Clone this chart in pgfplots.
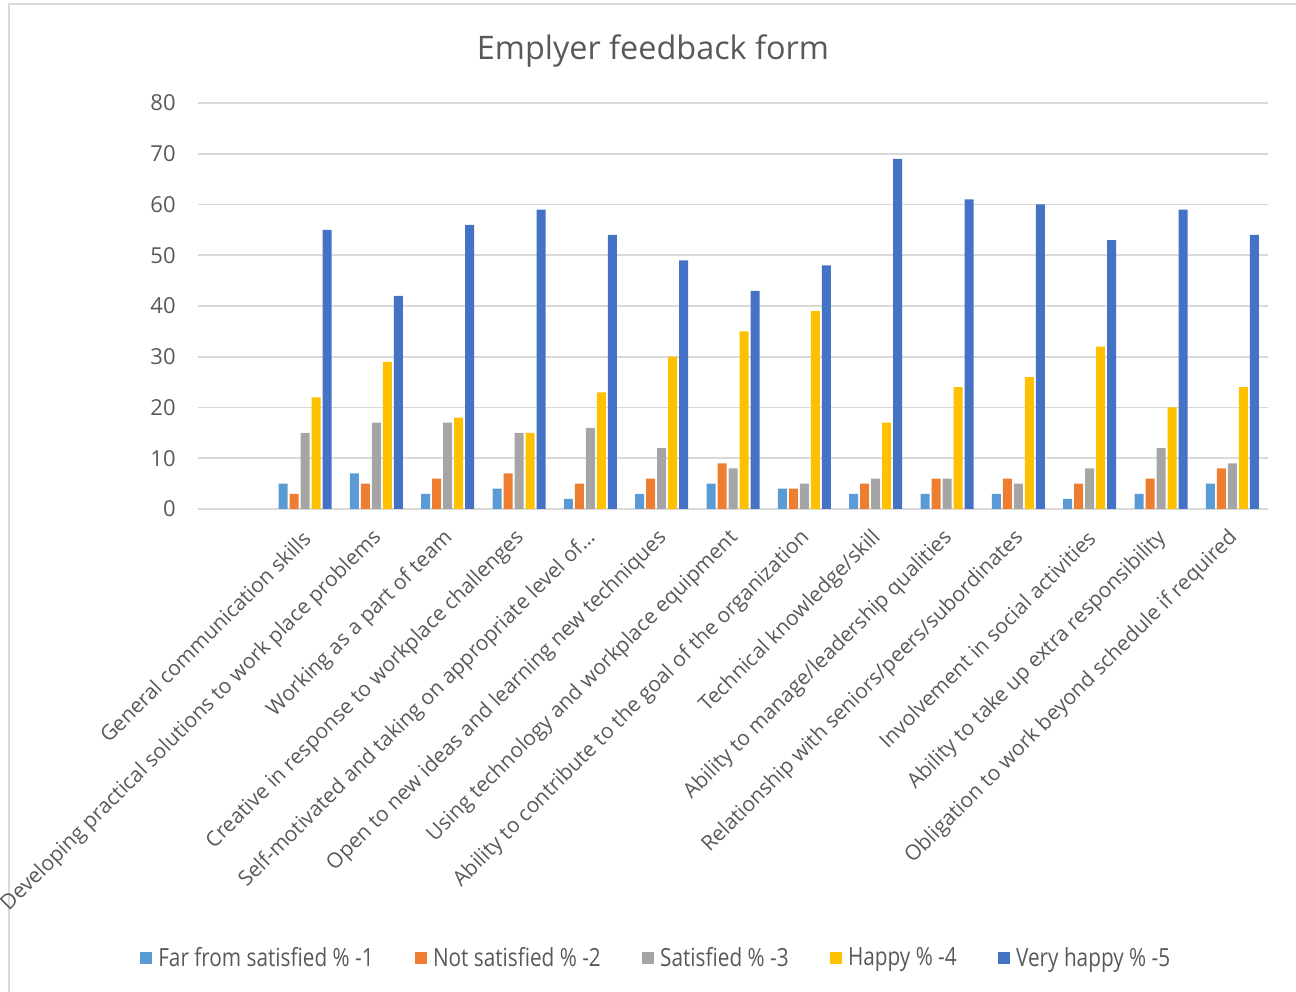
\documentclass[border=0pt]{standalone}
\usepackage{fontspec}
\setmainfont{Open Sans}
\newfontfamily\legfont[FakeStretch=0.83]{Open Sans}
\usepackage{pgfplots}
\pgfplotsset{compat=1.18}
\definecolor{c1}{HTML}{5B9BD5}
\definecolor{c2}{HTML}{ED7D31}
\definecolor{c3}{HTML}{A5A5A5}
\definecolor{c4}{HTML}{FFC000}
\definecolor{c5}{HTML}{4472C4}
\definecolor{txt}{HTML}{595959}
\definecolor{gridc}{HTML}{D9D9D9}
\begin{document}
\begin{tikzpicture}
\useasboundingbox (0,0) rectangle (648bp,496bp);
\draw[gridc, line width=1bp] (4.25bp,-2bp) -- (4.25bp,493.75bp) -- (650bp,493.75bp);
\begin{axis}[
  at={(99bp,241.5bp)}, anchor=south west,
  scale only axis, width=535bp, height=203bp,
  xmin=-0.5, xmax=14.5, ymin=0, ymax=80,
  ybar=1bp, bar width=4.5bp,
  axis line style={draw=none},
  major tick length=0pt,
  ytick={0,10,...,80},
  ymajorgrids, grid style={gridc, line width=0.9bp},
  xtick={1,...,14},
  xticklabels={
    General communication skills,
    Developing practical solutions to work place problems,
    Working as a part of team,
    Creative in response to workplace challenges,
    Self-motivated and taking on appropriate level of…,
    Open to new ideas and learning new techniques,
    Using technology and workplace equipment,
    Ability to contribute to the goal of the organization,
    Technical knowledge/skill,
    Ability to manage/leadership qualities,
    Relationship with seniors/peers/subordinates,
    Involvement in social activities,
    Ability to take up extra responsibility,
    Obligation to work beyond schedule if required},
  /pgf/number format/assume math mode=true,
  yticklabel style={font=\fontsize{11bp}{13bp}\selectfont, text=txt, inner sep=0pt, xshift=-11bp},
  xticklabel style={font=\fontsize{10.5bp}{12bp}\selectfont, text=txt, inner sep=0pt, xshift=1bp, yshift=-12.8bp, rotate=45, anchor=east},
  title={Emplyer feedback form},
  title style={at={(axis description cs:0.4252,1.1355)}, anchor=center, yshift=-7.5bp, font=\fontsize{16.2bp}{19bp}\selectfont, text=txt},
  legend columns=5,
  legend style={at={(axis description cs:0.429,-1.106)}, anchor=center, draw=none, fill=none,
    font=\legfont\fontsize{12.5bp}{14bp}\selectfont, text=txt,
    /tikz/every even column/.append style={column sep=18.5bp},
    /tikz/every odd column/.append style={column sep=1.2bp}},
  legend cell align=left,
  legend image code/.code={\fill[#1] (0bp,-3bp) rectangle (6bp,3bp);},
]
\addplot[fill=c1, draw=none] coordinates {(1,5) (2,7) (3,3) (4,4) (5,2) (6,3) (7,5) (8,4) (9,3) (10,3) (11,3) (12,2) (13,3) (14,5)};
\addplot[fill=c2, draw=none] coordinates {(1,3) (2,5) (3,6) (4,7) (5,5) (6,6) (7,9) (8,4) (9,5) (10,6) (11,6) (12,5) (13,6) (14,8)};
\addplot[fill=c3, draw=none] coordinates {(1,15) (2,17) (3,17) (4,15) (5,16) (6,12) (7,8) (8,5) (9,6) (10,6) (11,5) (12,8) (13,12) (14,9)};
\addplot[fill=c4, draw=none] coordinates {(1,22) (2,29) (3,18) (4,15) (5,23) (6,30) (7,35) (8,39) (9,17) (10,24) (11,26) (12,32) (13,20) (14,24)};
\addplot[fill=c5, draw=none] coordinates {(1,55) (2,42) (3,56) (4,59) (5,54) (6,49) (7,43) (8,48) (9,69) (10,61) (11,60) (12,53) (13,59) (14,54)};
\legend{Far from satisfied \% -1, Not satisfied \% -2, Satisfied \% -3, Happy \% -4, Very happy \% -5}
\end{axis}
\end{tikzpicture}
\end{document}
